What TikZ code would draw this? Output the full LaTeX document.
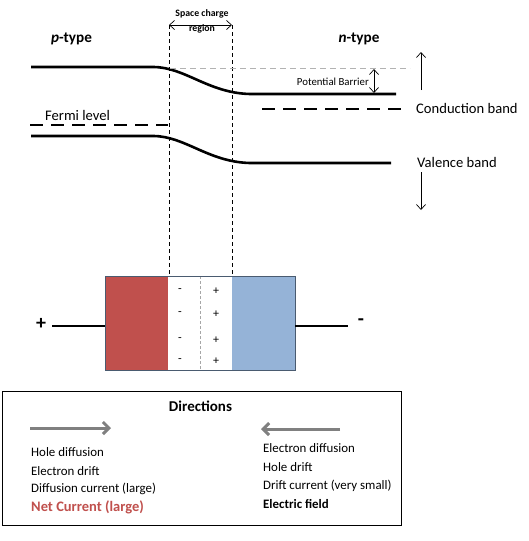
\documentclass[tikz,border=0pt]{standalone}
\usepackage{fontspec}
\setmainfont{Carlito}
\usetikzlibrary{arrows.meta}
\definecolor{pred}{HTML}{C0504D}
\definecolor{nblue}{HTML}{95B3D7}
\definecolor{boxedge}{HTML}{4A5B70}
\definecolor{arrgray}{HTML}{808080}
\begin{document}
\begin{tikzpicture}[x=1pt,y=-1pt,
  band/.style={line width=2.6pt},
  fermi/.style={line width=1.8pt,dash pattern=on 13pt off 8pt},
  vdash/.style={line width=0.8pt,dash pattern=on 4pt off 3pt},
  thinarr/.style={line width=0.7pt,{Straight Barb[length=5pt,width=9pt]}-{Straight Barb[length=5pt,width=9pt]}},
  onearr/.style={line width=0.7pt,-{Straight Barb[length=5pt,width=9pt]}},
  dirarr/.style={line width=3pt,arrgray,-{Straight Barb[length=6pt,width=12pt]}},
  lbl/.style={inner sep=0pt,font=\fontsize{14.6}{16}\selectfont},
  small/.style={inner sep=0pt,font=\fontsize{9.8}{11}\selectfont\bfseries},
  dtxt/.style={inner sep=0pt,anchor=west,font=\fontsize{12.9}{14}\selectfont},
  chg/.style={inner sep=0pt,font=\fontsize{12}{13}\selectfont}]
\useasboundingbox (0,0) rectangle (528,541);
\fill[white] (0,0) rectangle (528,541);

% space charge region
\coordinate (scl) at (169,25);
\coordinate (scr) at (232,25);
\coordinate (sclb) at (169,276);
\coordinate (scrb) at (232,276);
\draw[vdash] (scl) -- (sclb);
\draw[vdash] (scr) -- (scrb);
\draw[thinarr] (scl) -- (scr);
\node[small] (sc1) at (202,14) {Space charge};
\node[small] (sc2) at (202,29) {region};

% labels
\node[lbl,font=\fontsize{15.2}{17}\selectfont\bfseries] (ptype) at (71.5,39) {\textit{p}-type};
\node[lbl,font=\fontsize{15.2}{17}\selectfont\bfseries] (ntype) at (359,39) {\textit{n}-type};

% conduction band
\coordinate (c1) at (31,67);
\coordinate (c2) at (153,67);
\coordinate (c3) at (250,94);
\coordinate (c4) at (396,94);
\draw[band] (c1) -- (c2) .. controls (185,67) and (208,93) .. (c3) -- (c4);
% reference dashed line
\coordinate (g1) at (170,68);
\coordinate (g2) at (410,68);
\draw[gray!60,line width=0.8pt,dash pattern=on 6pt off 4pt] (g1) -- (g2);
% potential barrier
\coordinate (pb1) at (374,69);
\coordinate (pb2) at (374,93);
\draw[thinarr] (pb1) -- (pb2);
\node[inner sep=0pt,anchor=east,font=\fontsize{10.8}{12}\selectfont] (pbl) at (369,82) {Potential Barrier};

% fermi levels
\coordinate (f1) at (30,125);
\coordinate (f2) at (168,125);
\draw[fermi] (f1) -- (f2);
\node[lbl,anchor=west] (fl) at (45,115) {Fermi level};
\coordinate (f3) at (262,109);
\coordinate (f4) at (402,109);
\draw[fermi] (f3) -- (f4);
\node[lbl,anchor=west] (cb) at (416,108) {Conduction band};

% valence band
\coordinate (v1) at (31,136);
\coordinate (v2) at (153,136);
\coordinate (v3) at (250,163);
\coordinate (v4) at (391,163);
\draw[band] (v1) -- (v2) .. controls (185,136) and (208,162) .. (v3) -- (v4);
\node[lbl,anchor=west] (vb) at (417,162) {Valence band};

% energy arrows
\coordinate (u1) at (421,90);
\coordinate (u2) at (421,52);
\draw[onearr] (u1) -- (u2);
\coordinate (d1) at (421,172);
\coordinate (d2) at (421,210);
\draw[onearr] (d1) -- (d2);

% diode box
\fill[pred] (105,276) rectangle (168,370);
\fill[nblue] (232,276) rectangle (295,370);
\draw[gray!70,line width=0.6pt,dash pattern=on 3pt off 2pt] (200,276) -- (200,370);
\draw[boxedge,line width=0.8pt] (105,276) rectangle (295,370);
\node[draw=none,minimum width=190pt,minimum height=94pt,inner sep=0pt] (diode) at (200,323) {};
\foreach \yy [count=\i] in {291,314,340,361}{
  \node[chg] (m\i) at (180,\yy) {-};
  \node[chg] (p\i) at (216,\yy) {+};
}
% leads
\coordinate (ll) at (52,326);
\coordinate (rl) at (348,326);
\draw[line width=1.5pt] (ll) -- (diode.west |- ll);
\draw[line width=1.5pt] (diode.east |- rl) -- (rl);
\node[lbl,font=\fontsize{20}{22}\selectfont\bfseries] (plus) at (41,324) {+};
\node[lbl,font=\fontsize{20}{22}\selectfont\bfseries] (minus) at (361,322) {-};

% directions box
\node[draw,line width=0.8pt,minimum width=399pt,minimum height=134pt,inner sep=0pt] (dirbox) at (201.5,458) {};
\node[lbl,font=\fontsize{15}{17}\selectfont\bfseries] (dirt) at (200.5,406) {Directions};
\coordinate (a1) at (30,428);
\coordinate (a2) at (111,428);
\draw[dirarr] (a1) -- (a2);
\coordinate (b1) at (340,429);
\coordinate (b2) at (261,429);
\draw[dirarr] (b1) -- (b2);
\node[dtxt] (t1) at (31,452) {Hole diffusion};
\node[dtxt] (t2) at (31,471) {Electron drift};
\node[dtxt] (t3) at (31,489) {Diffusion current (large)};
\node[dtxt,text=pred,font=\fontsize{14.5}{16}\selectfont\bfseries] (t4) at (31,507) {Net Current (large)};
\node[dtxt] (r1) at (263,448) {Electron diffusion};
\node[dtxt] (r2) at (263,467) {Hole drift};
\node[dtxt] (r3) at (263,486) {Drift current (very small)};
\node[dtxt,font=\fontsize{12.9}{14}\selectfont\bfseries] (r4) at (263,504) {Electric field};
\end{tikzpicture}
\end{document}
